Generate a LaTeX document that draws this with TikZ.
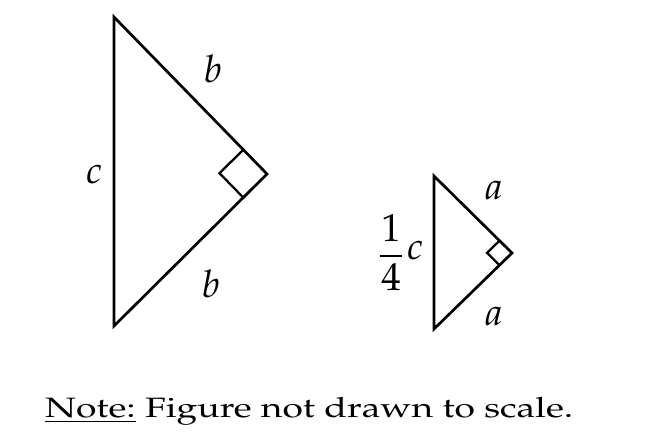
\documentclass[tikz,border=0pt]{standalone}
\usepackage[T1]{fontenc}
\usepackage{mathpazo}
\usepackage{graphicx}
\usetikzlibrary{calc}
\tikzset{
  edge/.style={line width=2.7pt, line join=miter},
  rmark/.style={line width=2.3pt},
  lbl/.style={inner sep=0pt, font=\fontsize{38}{42}\selectfont\itshape},
  digit/.style={inner sep=0pt, font=\fontsize{39}{42}\selectfont},
}
\begin{document}
\begin{tikzpicture}[x=1pt,y=-1pt]
\useasboundingbox (0,0) rectangle (646,447);
% large triangle
\coordinate (A) at (114,17);
\coordinate (B) at (114,326);
\coordinate (C) at (267,174);
\draw[edge] (A) -- (C) -- (B) -- cycle;
\draw[rmark] ($(C)!0.155!(A)$) -- ++($(C)!0.155!(B)-(C)$) -- ($(C)!0.155!(B)$);
% small triangle
\coordinate (D) at (434,176);
\coordinate (E) at (434,329);
\coordinate (F) at (512,253);
\draw[edge] (D) -- (F) -- (E) -- cycle;
\draw[rmark] ($(F)!0.16!(D)$) -- ++($(F)!0.16!(E)-(F)$) -- ($(F)!0.16!(E)$);
% labels
\node[lbl] (lb1) at (213,69) {b};
\node[lbl] (lb2) at (211,284) {b};
\node[lbl] (lc) at (94,174) {c};
\node[lbl] (la1) at (494,190) {a};
\node[lbl] (la2) at (494,316) {a};
% one quarter c
\node[digit] (n1) at (391,228) {1};
\node[digit] (n4) at (391,277) {4};
\coordinate (barL) at (380,256);
\coordinate (barR) at (402,256);
\draw[line width=1.3pt] (barL) -- (barR);
\node[lbl] (lq) at (415,250) {c};
\node[anchor=base west, inner sep=0pt, font=\fontsize{28}{32}\selectfont] (note) at (45,417) {\scalebox{1.33}[1]{\underline{Note:} Figure not drawn to scale.}};
\end{tikzpicture}
\end{document}
